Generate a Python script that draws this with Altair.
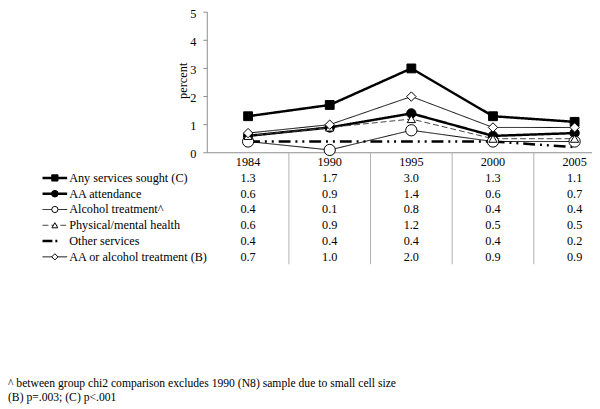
import altair as alt
import pandas as pd

years = ["1984", "1990", "1995", "2000", "2005"]
series = [
    "Any services sought (C)",
    "AA attendance",
    "Alcohol treatment^",
    "Physical/mental health",
    "Other services",
    "AA or alcohol treatment (B)",
]
any_services = [1.3, 1.7, 3.0, 1.3, 1.1]
aa_attendance = [0.6, 0.9, 1.4, 0.6, 0.7]
alcohol_treatment = [0.4, 0.1, 0.8, 0.4, 0.4]
physical_mental = [0.6, 0.9, 1.2, 0.5, 0.5]
other_services = [0.4, 0.4, 0.4, 0.4, 0.2]
aa_or_alcohol = [0.7, 1.0, 2.0, 0.9, 0.9]
values = [any_services, aa_attendance, alcohol_treatment, physical_mental, other_services, aa_or_alcohol]
y_ticks = [0, 1, 2, 3, 4, 5]
footnotes = [
    "^ between group chi2 comparison excludes 1990 (N8) sample due to small cell size",
    "(B) p=.003; (C) p<.001",
]

FONT = "Liberation Serif"

styles = [
    dict(width=2.5, dash=[1, 0], ldash=[1, 0], color="black", shape="square", filled=True, size=80, lsize=40),
    dict(width=2.5, dash=[1, 0], ldash=[1, 0], color="black", shape="circle", filled=True, size=90, lsize=45),
    dict(width=1, dash=[1, 0], ldash=[1, 0], color="black", shape="circle", filled=False, size=130, lsize=40),
    dict(width=1, dash=[6, 3], ldash=[6, 3], color="#444444", shape="triangle-up", filled=False, size=70, lsize=35),
    dict(width=2.5, dash=[12, 5, 2, 5, 2, 5], ldash=[10, 3, 2, 30], color="black", shape=None, filled=False, size=0, lsize=0),
    dict(width=1, dash=[1, 0], ldash=[1, 0], color="black", shape="diamond", filled=False, size=90, lsize=40),
]

XS = alt.Scale(domain=[-0.5, 4.5], range=[202, 615.75], nice=False, zero=False)
YS = alt.Scale(domain=[0, 5], range=[144, 1.5], nice=False, zero=False)
RS = alt.Scale(domain=[0, 6], range=[153.5, 249.5], nice=False, zero=False)

def X(f="idx"):
    return alt.X(f"{f}:Q", scale=XS, axis=None)

def Y(f="value"):
    return alt.Y(f"{f}:Q", scale=YS, axis=None)

def R(f="row"):
    return alt.Y(f"{f}:Q", scale=RS, axis=None)

layers = []

# axes
ax = pd.DataFrame({"x0": [-0.5], "x1": [4.5], "y0": [0], "y1": [5]})
layers.append(alt.Chart(ax).mark_rule(color="#8c8c8c", strokeWidth=1).encode(
    x=X("x0"), y=Y("y0"), y2="y1"))
layers.append(alt.Chart(ax).mark_rule(color="#8c8c8c", strokeWidth=1).encode(
    x=X("x0"), x2="x1", y=Y("y0")))
yt = pd.DataFrame({"value": y_ticks})
layers.append(alt.Chart(yt).mark_rule(color="#8c8c8c", strokeWidth=1).encode(
    x=alt.value(198), x2=alt.value(202), y=Y()))
layers.append(alt.Chart(yt).mark_text(font=FONT, fontSize=12.5, align="right", baseline="middle", color="black", dy=1.5).encode(
    x=alt.value(191), y=Y(), text=alt.Text("value:Q", format="d")))
layers.append(alt.Chart(pd.DataFrame({"t": ["percent"]})).mark_text(
    font=FONT, fontSize=12.5, angle=270, align="center", baseline="middle", color="black").encode(
    x=alt.value(177), y=alt.value(71), text="t:N"))

# table grid lines
grid = pd.DataFrame({"idx": [0.5, 1.5, 2.5, 3.5, 4.5]})
layers.append(alt.Chart(grid).mark_rule(color="#b0b0b0", strokeWidth=1).encode(
    x=X(), y=alt.value(144), y2=alt.value(257)))

# table header
hdr = pd.DataFrame({"idx": list(range(5)), "year": years, "row": [0] * 5})
layers.append(alt.Chart(hdr).mark_text(font=FONT, fontSize=12.4, align="center", baseline="middle", color="black").encode(
    x=X(), y=R(), text="year:N"))

for i, (name, vals, st) in enumerate(zip(series, values, styles)):
    df = pd.DataFrame({"idx": list(range(5)), "value": vals, "row": [i + 1] * 5})
    layers.append(alt.Chart(df).mark_line(color=st["color"], strokeWidth=st["width"], strokeDash=st["dash"]).encode(
        x=X(), y=Y()))
    leg = pd.DataFrame({"row": [i + 1], "name": [name]})
    layers.append(alt.Chart(leg).mark_rule(color=st["color"], strokeWidth=st["width"], strokeDash=st["ldash"]).encode(
        x=alt.value(35), x2=alt.value(60), y=R()))
    layers.append(alt.Chart(leg).mark_text(font=FONT, fontSize=12.4, align="left", baseline="middle", color="black").encode(
        x=alt.value(62), y=R(), text="name:N"))
    layers.append(alt.Chart(df).mark_text(font=FONT, fontSize=12.4, align="center", baseline="middle", color="black").encode(
        x=X(), y=R(), text=alt.Text("value:Q", format=".1f")))

for i, (name, vals, st) in enumerate(zip(series, values, styles)):
    if st["shape"] is None:
        continue
    df = pd.DataFrame({"idx": list(range(5)), "value": vals})
    fill = "black" if st["filled"] else "white"
    layers.append(alt.Chart(df).mark_point(shape=st["shape"], size=st["size"], filled=True, fill=fill,
                                           stroke="black", strokeWidth=1, opacity=1).encode(x=X(), y=Y()))
    leg = pd.DataFrame({"row": [i + 1]})
    layers.append(alt.Chart(leg).mark_point(shape=st["shape"], size=st["lsize"], filled=True, fill=fill,
                                            stroke="black", strokeWidth=1, opacity=1).encode(
        x=alt.value(47.5), y=R()))

fn = pd.DataFrame({"t": footnotes, "y": [377, 392]})
layers.append(alt.Chart(fn).mark_text(font=FONT, fontSize=11.8, align="left", baseline="middle", color="black").encode(
    x=alt.value(0), y=alt.Y("y:Q", scale=alt.Scale(domain=[0, 401], range=[0, 401]), axis=None), text="t:N"))

chart = alt.layer(*layers).resolve_scale(x="independent", y="independent").properties(
    width=592, height=401, autosize=alt.AutoSizeParams(type="none"), padding=0
).configure_view(stroke=None)

chart.save("out.html", embed_options={"renderer": "svg", "actions": False})
